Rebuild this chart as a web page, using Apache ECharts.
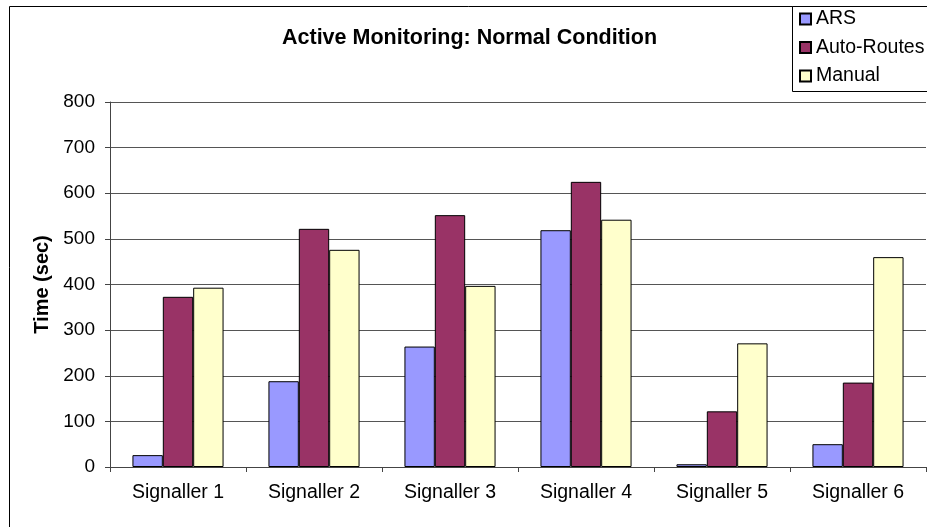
<!DOCTYPE html>
<html>
<head>
<meta charset="utf-8">
<script src="https://cdn.jsdelivr.net/npm/echarts@6/dist/echarts.min.js"></script>
<style>
  html, body { margin: 0; padding: 0; background: #fff; }
  #main { width: 927px; height: 527px; }
</style>
</head>
<body>
<div id="main"></div>
<script>
var categories = ['Signaller 1', 'Signaller 2', 'Signaller 3', 'Signaller 4', 'Signaller 5', 'Signaller 6'];
var ars = [26, 188, 264, 519, 6, 50];
var autoRoutes = [373, 522, 552, 625, 122, 185];
var manual = [393, 476, 397, 542, 271, 460];

var myChart = echarts.init(document.getElementById('main'));
var font = 'Liberation Sans, Arial, sans-serif';

var option = {
    animation: false,
    backgroundColor: '#fff',
    textStyle: { fontFamily: font, color: '#000' },
    graphic: [
        {
            type: 'rect',
            z: -1,
            shape: { x: 9.5, y: 6.5, width: 1000, height: 1000 },
            style: { fill: 'none', stroke: '#000', lineWidth: 1 }
        },
        {
            // legend frame, runs past the right edge like the original
            type: 'rect',
            z: 0,
            shape: { x: 792.5, y: 6.5, width: 200, height: 85 },
            style: { fill: '#fff', stroke: '#000', lineWidth: 1 }
        }
    ],
    title: {
        text: 'Active Monitoring: Normal Condition',
        left: 282,
        top: 27,
        padding: 0,
        textStyle: { fontFamily: font, fontSize: 21.5, fontWeight: 'bold', color: '#000' }
    },
    legend: {
        orient: 'vertical',
        left: 792,
        top: 6,
        padding: [3, 5, 5, 7],
        itemGap: 8.5,
        itemWidth: 11,
        itemHeight: 11,
        icon: 'rect',
        textStyle: { fontFamily: font, fontSize: 19.5, color: '#000' },
        data: ['ARS', 'Auto-Routes', 'Manual']
    },
    grid: { left: 110, right: 1, top: 102, bottom: 60, containLabel: false },
    xAxis: {
        type: 'category',
        data: categories,
        axisLine: { lineStyle: { color: '#444', width: 1 } },
        axisTick: { show: true, length: 5, lineStyle: { color: '#444' } },
        axisLabel: { fontFamily: font, fontSize: 19.5, color: '#000', margin: 16 }
    },
    yAxis: {
        type: 'value',
        min: 0,
        max: 800,
        interval: 100,
        name: 'Time (sec)',
        nameLocation: 'middle',
        nameGap: 57,
        nameTextStyle: { fontFamily: font, fontSize: 20, fontWeight: 'bold', color: '#000' },
        axisLine: { show: true, lineStyle: { color: '#444', width: 1 } },
        axisTick: { show: true, length: 5, lineStyle: { color: '#444' } },
        axisLabel: { fontFamily: font, fontSize: 19, color: '#000', margin: 15 },
        splitLine: { show: true, lineStyle: { color: '#555', width: 1 } }
    },
    series: [
        {
            name: 'ARS',
            type: 'bar',
            data: ars,
            barGap: '0%',
            barCategoryGap: '33%',
            itemStyle: { color: '#9999ff', borderColor: '#000', borderWidth: 1 }
        },
        {
            name: 'Auto-Routes',
            type: 'bar',
            data: autoRoutes,
            barGap: '0%',
            barCategoryGap: '33%',
            itemStyle: { color: '#993366', borderColor: '#000', borderWidth: 1 }
        },
        {
            name: 'Manual',
            type: 'bar',
            data: manual,
            barGap: '0%',
            barCategoryGap: '33%',
            itemStyle: { color: '#ffffcc', borderColor: '#000', borderWidth: 1 }
        }
    ]
};

myChart.setOption(option);
</script>
</body>
</html>
